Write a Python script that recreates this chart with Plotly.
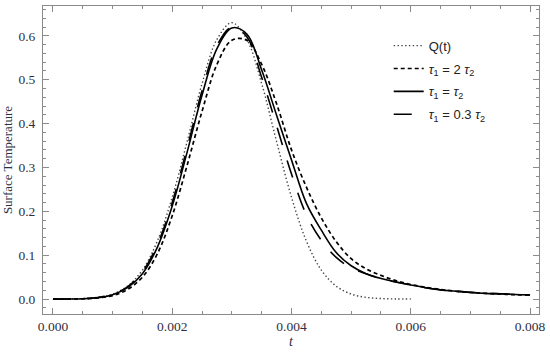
import plotly.graph_objects as go

# time grid (s)
t_q = [0, 0.00025, 0.0005, 0.00075, 0.001, 0.00125, 0.0015, 0.00175, 0.002,
       0.00225, 0.0025, 0.00275, 0.003, 0.00325, 0.0035, 0.00375, 0.004,
       0.00425, 0.0045, 0.00475, 0.005, 0.00525, 0.0055, 0.00575, 0.006]
q_vals = [0.0001, 0.0003, 0.0012, 0.004, 0.0115, 0.0295, 0.066, 0.132, 0.232,
          0.359, 0.491, 0.592, 0.630, 0.592, 0.491, 0.359, 0.232,
          0.132, 0.066, 0.0295, 0.0115, 0.004, 0.0012, 0.0003, 0.0001]

t_r = [0, 0.00025, 0.0005, 0.00075, 0.001, 0.00125, 0.0015, 0.00175, 0.002,
       0.00225, 0.0025, 0.00275, 0.003, 0.00325, 0.0035, 0.00375, 0.004,
       0.00425, 0.0045, 0.00475, 0.005, 0.00525, 0.0055, 0.00575, 0.006,
       0.00625, 0.0065, 0.00675, 0.007, 0.00725, 0.0075, 0.00775, 0.008]

tau_2x = [0.0, 0.0001, 0.0006, 0.0025, 0.008, 0.022, 0.050, 0.103, 0.190,
          0.305, 0.428, 0.535, 0.590, 0.590, 0.535, 0.445, 0.340,
          0.255, 0.185, 0.131, 0.092, 0.069, 0.054, 0.042, 0.033,
          0.027, 0.022, 0.018, 0.015, 0.013, 0.0115, 0.010, 0.009]

tau_eq = [0.0, 0.0002, 0.0008, 0.003, 0.010, 0.026, 0.058, 0.118, 0.212,
          0.335, 0.465, 0.571, 0.618, 0.604, 0.522, 0.419, 0.317,
          0.218, 0.157, 0.106, 0.076, 0.058, 0.047, 0.039, 0.032,
          0.026, 0.021, 0.018, 0.015, 0.013, 0.012, 0.0105, 0.0095]

tau_03 = [0.0, 0.0002, 0.001, 0.0035, 0.011, 0.028, 0.062, 0.124, 0.220,
          0.345, 0.475, 0.578, 0.620, 0.598, 0.505, 0.395, 0.285,
          0.192, 0.134, 0.095, 0.071, 0.058, 0.047, 0.039, 0.032,
          0.026, 0.021, 0.0185, 0.0155, 0.0135, 0.012, 0.0105, 0.0095]

x_ticks = [0.0, 0.002, 0.004, 0.006, 0.008]
x_labels = ["0.000", "0.002", "0.004", "0.006", "0.008"]
y_ticks = [0.0, 0.1, 0.2, 0.3, 0.4, 0.5, 0.6]
y_labels = ["0.0", "0.1", "0.2", "0.3", "0.4", "0.5", "0.6"]

SERIF = "Liberation Serif, Times New Roman, serif"

fig = go.Figure()
fig.add_trace(go.Scatter(x=t_q, y=q_vals, mode="lines", name="Q(t)",
                         legendgroup="a",
                         line=dict(color="#444444", width=1.4, dash="1.4px,2.4px", shape="spline")))
fig.add_trace(go.Scatter(x=t_r, y=tau_2x, mode="lines",
                         name="<i>τ</i><sub>1</sub> = 2 <i>τ</i><sub>2</sub>",
                         legendgroup="b",
                         line=dict(color="black", width=1.7, dash="4px,3px", shape="spline")))
fig.add_trace(go.Scatter(x=t_r, y=tau_eq, mode="lines",
                         name="<i>τ</i><sub>1</sub> = <i>τ</i><sub>2</sub>",
                         legendgroup="c",
                         line=dict(color="black", width=1.6, shape="spline")))
fig.add_trace(go.Scatter(x=t_r, y=tau_03, mode="lines",
                         name="<i>τ</i><sub>1</sub> = 0.3 <i>τ</i><sub>2</sub>",
                         legendgroup="d",
                         line=dict(color="black", width=1.6, dash="18px,16px", shape="spline")))

axis_common = dict(
    showgrid=False, zeroline=False, showline=True, linecolor="#8a8a8a", linewidth=1,
    mirror="allticks", ticks="inside", ticklen=6, tickcolor="#8a8a8a", tickwidth=1,
    tickfont=dict(family=SERIF, size=13.5, color="#2f2f3f"),
    ticklabeloverflow="allow",
)

fig.update_xaxes(**axis_common, range=[-0.000167, 0.00815], tickvals=x_ticks,
                 ticktext=x_labels,
                 minor=dict(dtick=0.0005, ticklen=3, ticks="inside", tickcolor="#8a8a8a"),
                 title=dict(text="<i>t</i>", font=dict(family=SERIF, size=14, color="#2f2f3f"),
                            standoff=2))
fig.update_yaxes(**axis_common, range=[-0.034, 0.668], tickvals=y_ticks,
                 ticktext=y_labels, ticklabelstandoff=4,
                 minor=dict(dtick=0.02, ticklen=3, ticks="inside", tickcolor="#8a8a8a"),
                 title=dict(text="Surface Temperature",
                            font=dict(family=SERIF, size=13, color="#2f2f3f"),
                            standoff=3))

fig.update_layout(
    width=550, height=358,
    margin=dict(l=43, r=8, t=5, b=44),
    paper_bgcolor="white", plot_bgcolor="white",
    showlegend=True,
    legend=dict(x=0.697, y=0.92, xanchor="left", yanchor="top",
                bgcolor="rgba(0,0,0,0)", traceorder="grouped", tracegroupgap=3,
                font=dict(family="Liberation Sans", size=13, color="#222222")),
)

fig.write_html("out.html",
               config={"displayModeBar": False},
               post_script="document.body.style.margin='0';document.body.style.overflow='hidden';")
